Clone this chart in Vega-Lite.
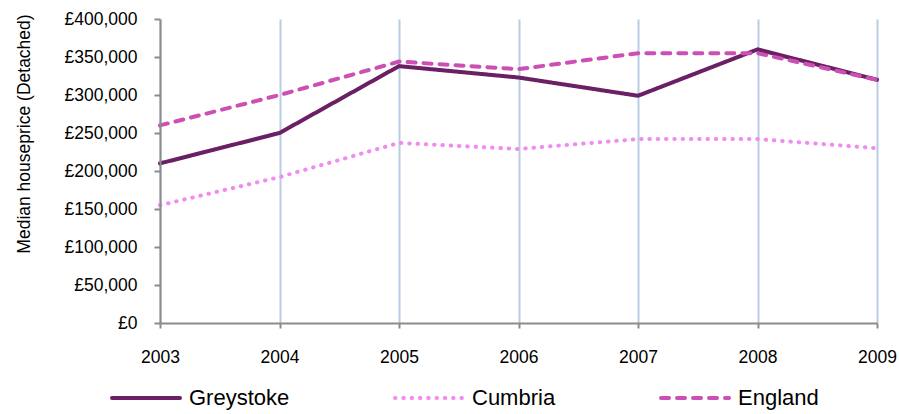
{
  "$schema": "https://vega.github.io/schema/vega-lite/v6.json",
  "width": 717,
  "height": 304,
  "autosize": {"type": "none"},
  "padding": {"left": 160, "top": 19, "right": 22, "bottom": 91},
  "background": "white",
  "config": {
    "view": {"stroke": null},
    "font": "Liberation Sans"
  },
  "data": {
    "values": [
      {"year": 2003, "area": "Greystoke", "price": 210000},
      {"year": 2004, "area": "Greystoke", "price": 250000},
      {"year": 2005, "area": "Greystoke", "price": 338000},
      {"year": 2006, "area": "Greystoke", "price": 323000},
      {"year": 2007, "area": "Greystoke", "price": 299000},
      {"year": 2008, "area": "Greystoke", "price": 360000},
      {"year": 2009, "area": "Greystoke", "price": 320000},
      {"year": 2003, "area": "Cumbria", "price": 155000},
      {"year": 2004, "area": "Cumbria", "price": 192000},
      {"year": 2005, "area": "Cumbria", "price": 237000},
      {"year": 2006, "area": "Cumbria", "price": 229000},
      {"year": 2007, "area": "Cumbria", "price": 242000},
      {"year": 2008, "area": "Cumbria", "price": 242000},
      {"year": 2009, "area": "Cumbria", "price": 230000},
      {"year": 2003, "area": "England", "price": 260000},
      {"year": 2004, "area": "England", "price": 300000},
      {"year": 2005, "area": "England", "price": 344000},
      {"year": 2006, "area": "England", "price": 334000},
      {"year": 2007, "area": "England", "price": 355000},
      {"year": 2008, "area": "England", "price": 355000},
      {"year": 2009, "area": "England", "price": 320000}
    ]
  },
  "mark": {"type": "line", "strokeWidth": 4, "strokeCap": "round"},
  "encoding": {
    "x": {
      "field": "year",
      "type": "quantitative",
      "scale": {"domain": [2003, 2009], "nice": false, "zero": false},
      "axis": {
        "title": null,
        "values": [2003, 2004, 2005, 2006, 2007, 2008, 2009],
        "format": "d",
        "grid": true,
        "gridColor": "#b9cde5",
        "gridWidth": 2,
        "domainColor": "#8c8c8c",
        "domainWidth": 2,
        "tickColor": "#8c8c8c",
        "tickWidth": 2,
        "tickSize": 5,
        "labelFontSize": 17.5,
        "labelColor": "#000000",
        "labelBaseline": "middle",
        "labelPadding": 29,
        "labelFlush": false,
        "labelOverlap": false
      }
    },
    "y": {
      "field": "price",
      "type": "quantitative",
      "scale": {"domain": [0, 400000], "nice": false},
      "axis": {
        "title": "Median houseprice (Detached)",
        "titleFontSize": 17.5,
        "titleFontWeight": "normal",
        "titleColor": "#000000",
        "titleX": -136,
        "titleY": 114.5,
        "titleAngle": -90,
        "titleAlign": "center",
        "titleBaseline": "middle",
        "values": [0, 50000, 100000, 150000, 200000, 250000, 300000, 350000, 400000],
        "labelExpr": "'£' + format(datum.value, ',')",
        "grid": false,
        "zindex": 1,
        "domainColor": "#8c8c8c",
        "domainWidth": 2,
        "tickColor": "#8c8c8c",
        "tickWidth": 2,
        "tickSize": 6,
        "labelFontSize": 17.5,
        "labelColor": "#000000",
        "labelPadding": 17
      }
    },
    "color": {
      "field": "area",
      "type": "nominal",
      "scale": {
        "domain": ["Greystoke", "Cumbria", "England"],
        "range": ["#6b1f64", "#f08cf0", "#cc4fb4"]
      },
      "legend": {
        "title": null,
        "orient": "none",
        "legendX": -50,
        "legendY": 343,
        "direction": "horizontal",
        "columns": 3,
        "columnPadding": 97,
        "symbolType": "stroke",
        "symbolSize": 4624,
        "symbolStrokeWidth": 4,
        "labelFontSize": 22,
        "labelColor": "#000000",
        "labelOffset": 7,
        "labelLimit": 300,
        "encode": {"symbols": {"update": {"strokeCap": {"value": "round"}}}}
      }
    },
    "strokeDash": {
      "field": "area",
      "type": "nominal",
      "scale": {
        "domain": ["Greystoke", "Cumbria", "England"],
        "range": [[1, 0], [0.5, 7.8], [8, 8]]
      },
      "legend": null
    }
  }
}
